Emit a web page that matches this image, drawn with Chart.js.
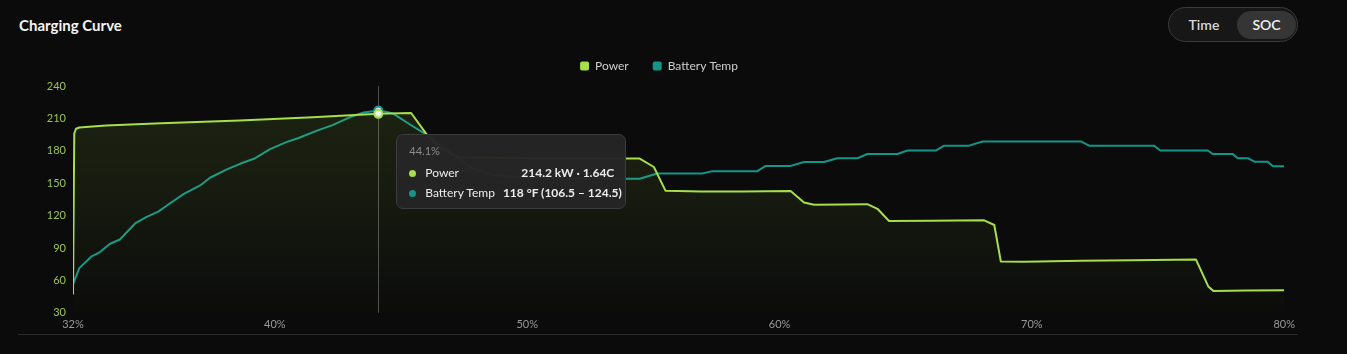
<!DOCTYPE html>
<html>
<head>
<meta charset="utf-8">
<title>Charging Curve</title>
<script src="https://cdn.jsdelivr.net/npm/chart.js@4.4.1/dist/chart.umd.min.js"></script>
<style>
    html, body { margin: 0; padding: 0; background: #0b0b0b; width: 1347px; height: 354px; overflow: hidden; }
    body { font-family: Lato, "Noto Sans", sans-serif; position: relative; }
    #titulo { position: absolute; left: 19px; top: 16px; color: #f4f4f4; font: 700 15px Lato, sans-serif; }
    #toggle { position: absolute; left: 1168px; top: 7px; width: 130px; height: 35px; box-sizing: border-box;
              border: 1px solid #3a3a3a; border-radius: 18px; background: #171717; }
    #toggle span { position: absolute; top: 3px; height: 28px; font: 600 14px Lato, sans-serif; line-height: 28px; text-align: center; }
    #toggle .off { left: 4px; width: 62px; color: #d6d6d6; }
    #toggle .on { left: 68px; width: 59px; color: #f2f2f2; background: #353535; border-radius: 15px; }
    #wrap { position: absolute; left: 18px; top: 36px; width: 1282px; height: 300px; }
    #divisor { position: absolute; left: 18px; top: 334px; width: 1280px; height: 1px; background: #2b2b2b; }
    #tt { position: absolute; width: 230px; box-sizing: border-box; padding: 8px 11px 5px 12px;
          background: rgba(37,37,37,0.97); border: 1px solid #3c3c3c; border-radius: 7px;
          font-size: 12px; color: #ececec; pointer-events: none; display: none; }
    #tt .t { color: #8d8d8d; font-size: 11px; line-height: 16px; margin-bottom: 4px; }
    #tt .r { display: flex; align-items: center; line-height: 20px; white-space: nowrap; }
    #tt .p { width: 7px; height: 7px; border-radius: 50%; margin-right: 9px; flex: none; }
    #tt .l { flex: 1; }
    #tt .v { font-weight: 700; margin-left: 8px; }
</style>
</head>
<body>
<div id="titulo">Charging Curve</div>
<div id="toggle"><span class="off">Time</span><span class="on">SOC</span></div>
<div id="wrap">
    <canvas id="graficoCarga"></canvas>
    <div id="tt"></div>
</div>
<div id="divisor"></div>

<script>
const socPower = [32.0, 32.05, 32.12, 32.25, 33.3, 35.5, 38.6, 41.5, 44.1, 45.4, 46.0, 46.6, 47.3, 50.0, 54.0, 54.46,
    55.02, 55.48, 56.9, 58.5, 60.44, 60.97, 61.37, 62.5, 63.48, 63.88, 64.34, 66.0, 68.11, 68.51, 68.77,
    69.7, 71.94, 74.0, 76.5, 76.99, 77.19, 78.5, 80.0];
const powerKw = [47, 196, 200.4, 201.6, 203.4, 205.5, 208, 211, 214.2, 215, 195.6, 182, 174, 173.2, 172.8, 172.8,
    165, 143.1, 142.2, 142.4, 142.8, 132.2, 130, 130.3, 130.6, 126.3, 115, 115.3, 115.6, 111.3, 77.5,
    77.2, 78.1, 78.6, 79.4, 54.4, 50.3, 50.6, 50.9];

const socTemp = [32.0, 32.25, 32.74, 33.07, 33.47, 33.86, 34.46, 34.92, 35.38, 35.85, 36.38, 37.04, 37.43,
    38.10, 38.62, 39.22, 39.81, 40.48, 40.94, 41.67, 42.26, 42.99, 43.52, 44.1, 44.38, 44.69, 45.37, 45.96,
    46.6, 47.2, 47.8, 48.6, 50.0, 52.0, 53.96, 54.46, 55.15, 56.94, 57.34, 59.12, 59.45, 60.44, 60.97,
    61.76, 62.29, 63.09, 63.48, 64.67, 65.07, 66.19, 66.52, 67.51, 68.05, 71.94, 72.27, 74.85, 75.09,
    76.97, 77.17, 77.96, 78.16, 78.56, 78.82, 79.35, 79.55, 80.0];
const tempF = [68.2, 72.8, 76.2, 77.4, 79.8, 81.0, 85.6, 87.5, 89.0, 91.4, 94.0, 96.5, 98.7,
    101.1, 102.7, 104.3, 106.9, 109.0, 110.1, 112.2, 113.7, 116.1, 117.4, 118, 117.6, 117.1, 113.9, 111.3,
    108, 104.5, 101.5, 99.5, 98.7, 98.5, 98.4, 98.4, 99.9, 99.9, 100.6, 100.6, 102.1, 102.1, 103.2,
    103.2, 104.3, 104.3, 105.5, 105.5, 106.5, 106.5, 107.9, 107.9, 109.1, 109.1, 107.9, 107.9, 106.5,
    106.5, 105.5, 105.5, 104.3, 104.3, 103.3, 103.3, 102.0, 102.0];

const xTicks = [32, 40, 50, 60, 70, 80];
const yTicks = [30, 60, 90, 120, 150, 180, 210, 240];
const tempRange = [60, 125];          // eje oculto de temperatura
const capacidadKwh = 130.6;           // para la tasa C del tooltip
const rangoCelda = [106.5, 124.5];    // min – max de celdas en el punto activo
const socActivo = 44.1;

const colorPower = '#a6de4c';
const colorTemp = '#14958a';

Chart.defaults.font.family = 'Lato, "Noto Sans", sans-serif';

document.addEventListener('DOMContentLoaded', function() {
    crearGrafico();
});

function rellenoPower(context) {
    const chart = context.chart;
    const area = chart.chartArea;
    if (!area) return 'rgba(166,222,76,0.06)';
    const g = chart.ctx.createLinearGradient(0, area.top, 0, area.bottom);
    g.addColorStop(0, 'rgba(166,222,76,0.13)');
    g.addColorStop(1, 'rgba(166,222,76,0.01)');
    return g;
}

// linea vertical en el punto activo
const lineaVertical = {
    id: 'lineaVertical',
    beforeDatasetsDraw(chart) {
        const activos = chart.tooltip.getActiveElements();
        if (!activos.length) return;
        const x = activos[0].element.x;
        const ctx = chart.ctx;
        ctx.save();
        ctx.strokeStyle = 'rgba(255,255,255,0.28)';
        ctx.lineWidth = 1;
        ctx.beginPath();
        ctx.moveTo(Math.round(x) + 0.5, chart.chartArea.top);
        ctx.lineTo(Math.round(x) + 0.5, chart.chartArea.bottom);
        ctx.stroke();
        ctx.restore();
    }
};

// la leyenda usa padding ancho entre items, pero no debe ocupar tanto alto
const alturaLeyenda = {
    id: 'alturaLeyenda',
    beforeInit(chart) {
        const fitOriginal = chart.legend.fit;
        chart.legend.fit = function() {
            fitOriginal.bind(chart.legend)();
            this.height = 50;
        };
    }
};

function tooltipExterno(context) {
    const tt = document.getElementById('tt');
    const tooltip = context.tooltip;
    if (tooltip.opacity === 0 || !tooltip.dataPoints) {
        tt.style.display = 'none';
        return;
    }
    const filas = tooltip.dataPoints.map(dp => {
        let valor;
        if (dp.datasetIndex === 0) {
            valor = dp.parsed.y.toFixed(1) + ' kW · ' + (dp.parsed.y / capacidadKwh).toFixed(2) + 'C';
        } else {
            valor = Math.round(dp.parsed.y) + ' °F (' + rangoCelda[0] + ' – ' + rangoCelda[1] + ')';
        }
        return `<div class="r"><span class="p" style="background:${dp.dataset.borderColor}"></span>` +
               `<span class="l">${dp.dataset.label}</span><span class="v">${valor}</span></div>`;
    }).join('');
    tt.innerHTML = `<div class="t">${tooltip.dataPoints[0].parsed.x}%</div>` + filas;
    tt.style.display = 'block';
    tt.style.left = (tooltip.caretX + 18) + 'px';
    tt.style.top = (tooltip.caretY + 22) + 'px';
}

function crearGrafico() {
    const ctx = document.getElementById('graficoCarga').getContext('2d');
    const chart = new Chart(ctx, {
        type: 'line',
        data: {
            datasets: [{
                label: 'Power',
                data: socPower.map((s, i) => ({ x: s, y: powerKw[i] })),
                yAxisID: 'y',
                borderColor: colorPower,
                backgroundColor: rellenoPower,
                fill: 'start',
                borderWidth: 2,
                borderJoinStyle: 'round',
                pointRadius: 0,
                pointHoverRadius: 4,
                pointHoverBorderWidth: 2,
                pointHoverBackgroundColor: 'rgba(255,255,255,0.85)',
                pointHoverBorderColor: colorPower
            }, {
                label: 'Battery Temp',
                data: socTemp.map((s, i) => ({ x: s, y: tempF[i] })),
                yAxisID: 'y1',
                borderColor: colorTemp,
                backgroundColor: colorTemp,
                fill: false,
                borderWidth: 2,
                borderJoinStyle: 'round',
                pointRadius: 0,
                pointHoverRadius: 4,
                pointHoverBorderWidth: 2,
                pointHoverBackgroundColor: 'rgba(255,255,255,0.85)',
                pointHoverBorderColor: colorTemp
            }]
        },
        options: {
            responsive: true,
            maintainAspectRatio: false,
            animation: false,
            events: [],
            layout: { padding: 0 },
            plugins: {
                legend: {
                    position: 'top',
                    labels: {
                        color: '#cfcfcf',
                        font: { size: 12 },
                        boxWidth: 9,
                        boxHeight: 9,
                        padding: 24,
                        generateLabels: chart => chart.data.datasets.map((ds, i) => ({
                            text: ds.label,
                            fillStyle: ds.borderColor,
                            strokeStyle: ds.borderColor,
                            lineWidth: 0,
                            borderRadius: 2,
                            fontColor: '#cfcfcf',
                            datasetIndex: i
                        }))
                    }
                },
                tooltip: {
                    enabled: false,
                    external: tooltipExterno
                }
            },
            scales: {
                x: {
                    type: 'linear',
                    min: xTicks[0],
                    max: xTicks[xTicks.length - 1],
                    afterBuildTicks: scale => { scale.ticks = xTicks.map(v => ({ value: v })); },
                    grid: { display: false, drawTicks: false },
                    border: { display: false },
                    ticks: {
                        color: '#9a9a9a',
                        font: { size: 11 },
                        padding: 5,
                        maxRotation: 0,
                        callback: v => v + '%'
                    }
                },
                y: {
                    min: yTicks[0],
                    max: yTicks[yTicks.length - 1],
                    afterBuildTicks: scale => { scale.ticks = yTicks.map(v => ({ value: v })); },
                    afterFit: scale => { scale.width = 55; },
                    grid: { display: false, drawTicks: false },
                    border: { display: false },
                    ticks: {
                        color: '#9cc454',
                        font: { size: 11 },
                        padding: 7
                    }
                },
                y1: {
                    display: false,
                    min: tempRange[0],
                    max: tempRange[1]
                }
            }
        },
        plugins: [lineaVertical, alturaLeyenda]
    });

    // tooltip fijo en el punto activo
    const iPower = socPower.indexOf(socActivo);
    const iTemp = socTemp.indexOf(socActivo);
    const activos = [{ datasetIndex: 0, index: iPower }, { datasetIndex: 1, index: iTemp }];
    const meta = chart.getDatasetMeta(0).data[iPower];
    chart.setActiveElements(activos);
    chart.tooltip.setActiveElements(activos, { x: meta.x, y: meta.y });
    chart.update();
}
</script>
</body>
</html>
